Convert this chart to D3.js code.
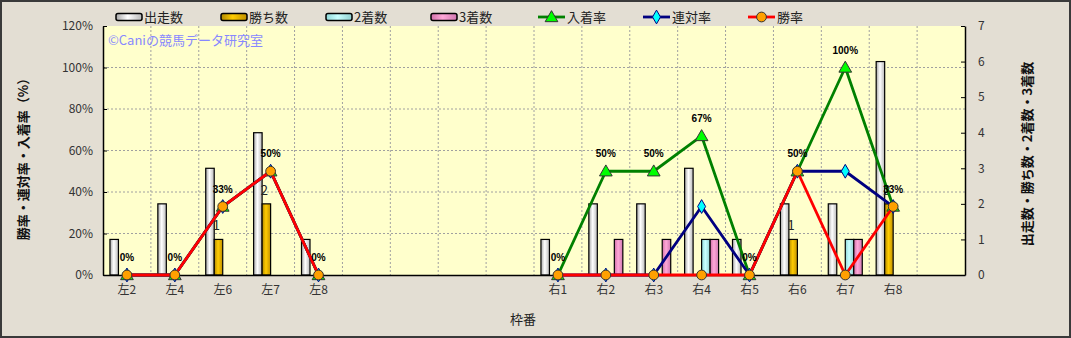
<!DOCTYPE html>
<html>
<head>
<meta charset="utf-8">
<script src="https://cdn.jsdelivr.net/npm/d3@7"></script>
<style>
body { margin: 0; background: #fff; }
text { font-family: "Noto Sans CJK JP", "Noto Sans", sans-serif; }
</style>
</head>
<body>
<div class="chart"></div>
<script>
// 枠番 (blank slots are the empty gap / trailing slot of the original)
const categories = ['左2','左4','左6','左7','左8','','','','','右1','右2','右3','右4','右5','右6','右7','右8','']

const starts  = [1,2,3,4,1,null,null,null,null,1,2,2,3,1,2,2,6,null]   // 出走数
const wins    = [0,0,1,2,0,null,null,null,null,0,0,0,0,0,1,0,2,null]   // 勝ち数
const seconds = [0,0,0,0,0,null,null,null,null,0,0,0,1,0,0,1,0,null]   // 2着数
const thirds  = [0,0,0,0,0,null,null,null,null,0,1,1,1,0,0,1,0,null]   // 3着数

const placeRate = [0,0,33,50,0,null,null,null,null,0,50,50,67,0,50,100,33,null] // 入着率
const rentaiRate = [0,0,33,50,0,null,null,null,null,0,0,0,33,0,50,50,33,null]   // 連対率
const winRate   = [0,0,33,50,0,null,null,null,null,0,0,0,0,0,50,0,33,null]      // 勝率

const leftTicks = [0,20,40,60,80,100,120]
const rightTicks = [0,1,2,3,4,5,6,7]

const barSeries = [
    {name:'出走数', values: starts, id:'gStart'},
    {name:'勝ち数', values: wins, id:'gWin'},
    {name:'2着数', values: seconds, id:'gSecond'},
    {name:'3着数', values: thirds, id:'gThird'}
]
const lineSeries = [
    {name:'入着率', values: placeRate, line:'#008000', fill:'#00ff00', shape:'triangle'},
    {name:'連対率', values: rentaiRate, line:'#000080', fill:'#00ffff', shape:'diamond'},
    {name:'勝率', values: winRate, line:'#ff0000', fill:'#ffa000', shape:'circle'}
]

const width = 1071
const height = 338
const plot = {left: 103, right: 965, top: 26, bottom: 275}

var svg = d3.select('.chart').append('svg').attr('width', width).attr('height', height)

// gradients for the cylinder-ish bars
var defs = svg.append('defs')
const grads = {gStart:['#a8a8a8','#ffffff','#b8b8b8'], gWin:['#b08800','#ffcc00','#c09000'],
    gSecond:['#90d8d8','#c8ffff','#90d0d0'], gThird:['#d070a8','#ffa8d8','#d078b0']}
Object.keys(grads).forEach(k => {
    let g = defs.append('linearGradient').attr('id', k).attr('x1','0%').attr('x2','100%')
    g.append('stop').attr('offset','0%').attr('stop-color', grads[k][0])
    g.append('stop').attr('offset','45%').attr('stop-color', grads[k][1])
    g.append('stop').attr('offset','100%').attr('stop-color', grads[k][2])
})

svg.append('rect').attr('x',0).attr('y',0).attr('width',width).attr('height',height).attr('fill','#e3ded3')
svg.append('rect').attr('x',1).attr('y',1).attr('width',width-2).attr('height',height-2)
    .attr('fill','none').attr('stroke','#3a3a3a').attr('stroke-width',2)

var xscale = d3.scaleBand().domain(d3.range(categories.length)).range([plot.left, plot.right])
var sub = d3.scaleBand().domain(d3.range(barSeries.length)).range([-17, 17])
var yleft = d3.scaleLinear().domain([0,120]).range([plot.bottom, plot.top])
var yright = d3.scaleLinear().domain([0,7]).range([plot.bottom, plot.top])
const cx = i => xscale(i) + xscale.bandwidth()/2

svg.append('rect').attr('x',plot.left).attr('y',plot.top)
    .attr('width',plot.right-plot.left).attr('height',plot.bottom-plot.top).attr('fill','#ffffcc')

// grid
svg.append('g').selectAll('line').data(leftTicks.slice(1,-1)).join('line')
    .attr('x1',plot.left).attr('x2',plot.right)
    .attr('y1',d => yleft(d)).attr('y2',d => yleft(d))
    .attr('stroke','#a0a0a0').attr('stroke-dasharray','2,2')
svg.append('g').selectAll('line').data(d3.range(1, categories.length)).join('line')
    .attr('x1',d => xscale(d)).attr('x2',d => xscale(d))
    .attr('y1',plot.top).attr('y2',plot.bottom)
    .attr('stroke','#a0a0a0').attr('stroke-dasharray','2,2')

svg.append('text').attr('x',108).attr('y',45).attr('font-size',13).attr('fill','#8888ff')
    .text('©Caniの競馬データ研究室')

// bars
barSeries.forEach((s,k) => {
    svg.append('g').selectAll('rect').data(s.values.map((v,i) => ({v,i})).filter(d => d.v > 0)).join('rect')
        .attr('x', d => cx(d.i) + sub(k))
        .attr('width', sub.bandwidth())
        .attr('y', d => yright(d.v))
        .attr('height', d => yright(0) - yright(d.v))
        .attr('fill', `url(#${s.id})`).attr('stroke','#000').attr('stroke-width',1.2)
})

// wins count labels
svg.append('g').selectAll('text').data(wins.map((v,i) => ({v,i})).filter(d => d.v > 0)).join('text')
    .attr('x', d => cx(d.i) + sub(1) + sub.bandwidth()/2 - 2)
    .attr('y', d => yright(d.v) - 9)
    .attr('text-anchor','middle').attr('font-size',13).attr('fill','#222')
    .text(d => d.v)

// axes
var axL = svg.append('g').attr('transform',`translate(${plot.left},0)`)
    .call(d3.axisLeft(yleft).tickValues(leftTicks).tickFormat(d => d + '%').tickSizeInner(-4).tickSizeOuter(0).tickPadding(10))
var axR = svg.append('g').attr('transform',`translate(${plot.right},0)`)
    .call(d3.axisRight(yright).tickValues(rightTicks).tickFormat(d3.format('d')).tickSizeInner(-4).tickSizeOuter(0).tickPadding(13))
var axB = svg.append('g').attr('transform',`translate(0,${plot.bottom})`)
    .call(d3.axisBottom(xscale).tickFormat(i => categories[i]).tickSize(0).tickSizeOuter(0).tickPadding(10))
;[axL, axR, axB].forEach(a => {
    a.selectAll('path').attr('stroke','#000').attr('stroke-width',1.5)
    a.selectAll('line').attr('stroke','#000')
    a.selectAll('text').attr('font-size',12).attr('fill','#333').style('font-family','"Noto Sans CJK JP", sans-serif')
})

// lines + markers
const symbolFor = {triangle: d3.symbol(d3.symbolTriangle, 70), diamond: d3.symbol(d3.symbolDiamond, 55), circle: d3.symbol(d3.symbolCircle, 75)}
var line = d3.line().defined(d => d.v != null).x(d => cx(d.i)).y(d => yleft(d.v))
lineSeries.forEach(s => {
    let pts = s.values.map((v,i) => ({v,i}))
    svg.append('path').datum(pts).attr('d', line)
        .attr('fill','none').attr('stroke', s.line).attr('stroke-width',2.8).attr('stroke-linejoin','round')
    svg.append('g').selectAll('path').data(pts.filter(d => d.v != null)).join('path')
        .attr('d', symbolFor[s.shape])
        .attr('transform', d => `translate(${cx(d.i)},${yleft(d.v) + (s.shape == 'triangle' ? 1 : 0)})`)
        .attr('fill', s.fill).attr('stroke', s.shape == 'diamond' ? '#000080' : '#333').attr('stroke-width',1)
})

// percent labels on 入着率
svg.append('g').selectAll('text').data(placeRate.map((v,i) => ({v,i})).filter(d => d.v != null)).join('text')
    .attr('x', d => cx(d.i)).attr('y', d => yleft(d.v) - 14)
    .attr('text-anchor','middle').attr('font-size',10).attr('font-weight','bold')
    .style('font-family','"Liberation Sans", Arial, sans-serif').attr('fill','#000')
    .text(d => d.v + '%')

// axis titles
svg.append('text').attr('transform','translate(28,156) rotate(-90)').attr('text-anchor','middle')
    .attr('font-size',13).attr('font-weight','bold').attr('fill','#111').text('勝率・連対率・入着率（%）')
svg.append('text').attr('transform','translate(1032,154) rotate(-90)').attr('text-anchor','middle')
    .attr('font-size',13).attr('font-weight','bold').attr('fill','#111').text('出走数・勝ち数・2着数・3着数')
svg.append('text').attr('x',523).attr('y',324).attr('text-anchor','middle')
    .attr('font-size',13).attr('fill','#222').text('枠番')

// legend
var legend = svg.append('g').attr('transform','translate(116,17)')
barSeries.forEach((s,k) => {
    let g = legend.append('g').attr('transform',`translate(${k*105},0)`)
    g.append('rect').attr('x',0).attr('y',-3.5).attr('width',26).attr('height',7).attr('rx',2)
        .attr('fill',`url(#${s.id})`).attr('stroke','#000').attr('stroke-width',1.5)
    g.append('text').attr('x',28).attr('y',5).attr('font-size',13).attr('fill','#222').text(s.name)
})
lineSeries.forEach((s,k) => {
    let g = legend.append('g').attr('transform',`translate(${(k+4)*105 + 2},0)`)
    g.append('line').attr('x1',0).attr('x2',27).attr('stroke',s.line).attr('stroke-width',2.8)
    g.append('path').attr('d', symbolFor[s.shape]).attr('transform',`translate(13.5,${s.shape=='triangle'?1:0})`)
        .attr('fill', s.fill).attr('stroke', s.shape == 'diamond' ? '#000080' : '#333')
    g.append('text').attr('x',29).attr('y',5).attr('font-size',13).attr('fill','#222').text(s.name)
})
</script>
</body>
</html>
